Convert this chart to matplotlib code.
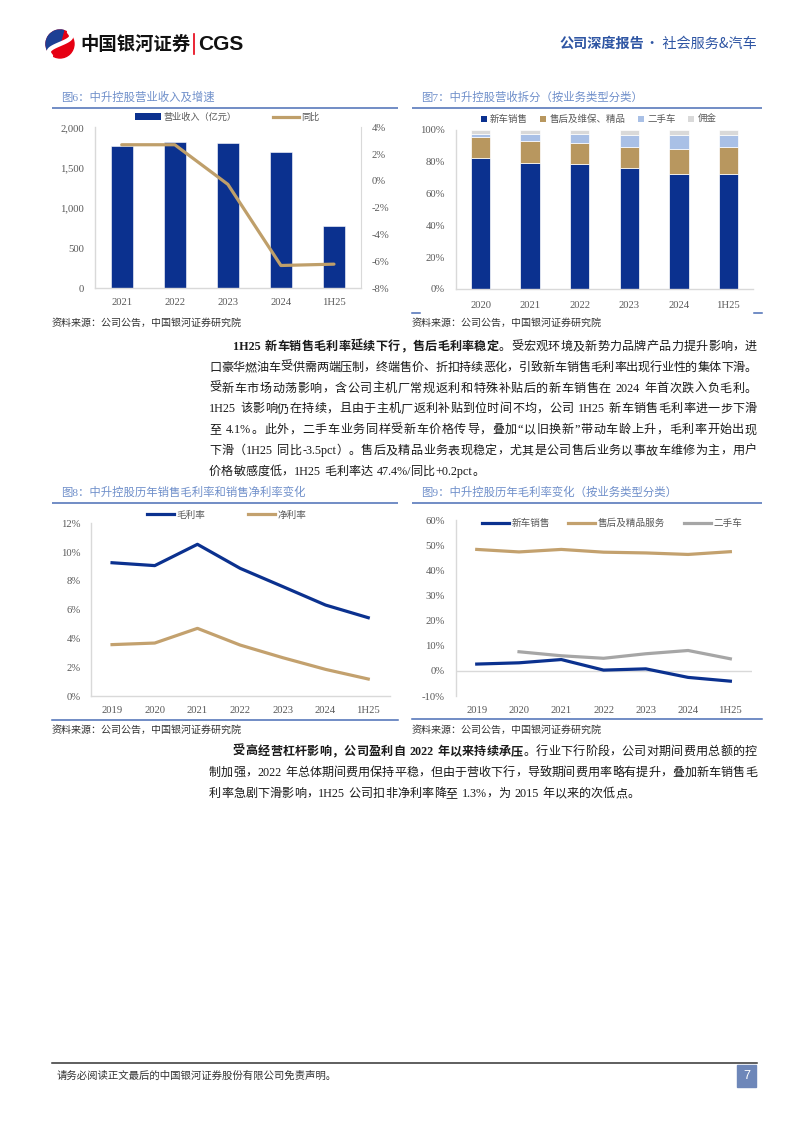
import numpy as np
import matplotlib
matplotlib.use("Agg")
import matplotlib.pyplot as plt
from matplotlib.patches import Patch, Rectangle, Circle, Wedge
from matplotlib.lines import Line2D
from matplotlib.ticker import FuncFormatter

plt.rcParams['font.family'] = ['Liberation Serif', 'Noto Sans CJK SC']
plt.rcParams['axes.unicode_minus'] = False

# ---- data ----
years6 = ['2021', '2022', '2023', '2024', '1H25']
revenue = [1768, 1814, 1801, 1693, 778]          # 营业收入（亿元）
revenue_yoy = [2.7, 2.7, -0.25, -6.3, -6.2]       # 同比 %

years7 = ['2020', '2021', '2022', '2023', '2024', '1H25']
new_car_share = [82.4, 79.3, 78.7, 75.8, 72.2, 72.4]
aftersales_share = [13.2, 13.8, 13.1, 13.5, 15.9, 16.9]
used_share = [1.9, 4.4, 5.5, 7.6, 8.8, 7.6]
commission_share = [2.5, 2.5, 2.7, 3.1, 3.1, 3.1]

years8 = ['2019', '2020', '2021', '2022', '2023', '2024', '1H25']
gross_margin = [9.26, 9.06, 10.54, 8.87, 7.6, 6.32, 5.44]
net_margin = [3.57, 3.68, 4.70, 3.54, 2.66, 1.85, 1.18]

new_car_gm = [2.7, 3.2, 4.5, 0.3, 0.8, -2.6, -4.1]
after_gm = [48.3, 47.3, 48.3, 47.2, 46.9, 46.3, 47.4]
used_gm = [np.nan, 7.6, 6.0, 5.0, 6.8, 8.1, 4.8]

ticks6_left = [0, 500, 1000, 1500, 2000]
ticks6_right = [-8, -6, -4, -2, 0, 2, 4]
ticks7 = [0, 20, 40, 60, 80, 100]
ticks8 = [0, 2, 4, 6, 8, 10, 12]
ticks9 = [-10, 0, 10, 20, 30, 40, 50, 60]

# ---- colours ----
NAVY = '#0b318f'
TAN = '#bf9f6a'
LBLUE = '#a9c0e6'
LGRAY = '#d9d9d9'
GRAY = '#a6a6a6'
TICK = '#595959'
AXLINE = '#d9d9d9'
TITLE = '#6f8fca'
RULE = '#4a6db5'
TXT = '#1a1a1a'
CJK = ['Noto Sans CJK SC']
MIX = ['Liberation Serif', 'Noto Sans CJK SC']

W, H = 794, 1123
fig = plt.figure(figsize=(W / 100, H / 100), dpi=100)

# overlay in pixel coordinates for page furniture
ov = fig.add_axes([0, 0, 1, 1])
ov.set_xlim(0, W)
ov.set_ylim(H, 0)
ov.axis('off')
renderer = fig.canvas.get_renderer()


def add_ax(x0, x1, ytop, ybot):
    return fig.add_axes([x0 / W, 1 - ybot / H, (x1 - x0) / W, (ybot - ytop) / H])


def style_ax(ax, pad_y=7.5, pad_x=7):
    for s in ['top', 'right']:
        ax.spines[s].set_visible(False)
    for s in ['left', 'bottom']:
        ax.spines[s].set_color(AXLINE)
        ax.spines[s].set_linewidth(1)
    ax.tick_params(axis='both', length=0, labelsize=7.7, labelcolor=TICK)
    ax.tick_params(axis='y', pad=pad_y)
    ax.tick_params(axis='x', pad=pad_x)


def chart_frame(x0, x1, title, ty, rule_y):
    ov.text(x0 + 9, ty, title, fontsize=8.2, color=TITLE, family=MIX, va='center', ha='left')
    ov.plot([x0, x1], [rule_y, rule_y], color=RULE, lw=1.1, solid_capstyle='butt')


def source(x, y):
    ov.text(x, y, '资料来源：公司公告，中国银河证券研究院', fontsize=7.2, color='#333333',
            family=CJK, style='italic', va='center', ha='left')


def fig_legend(ax, handles, labels, x, y, fs, **kw):
    ax.legend(handles, labels, loc='center left', bbox_to_anchor=(x / W, 1 - y / H),
              bbox_transform=fig.transFigure, frameon=False, borderpad=0, borderaxespad=0,
              ncol=len(handles), prop={'family': CJK, 'size': fs}, labelcolor=TICK, **kw)


pct = FuncFormatter(lambda v, p: '%d%%' % v)

# ---------- 图6 ----------
chart_frame(52, 398, '图6：中升控股营业收入及增速', 97.3, 107.7)
ax6 = add_ax(95.2, 360.5, 127.3, 288.3)
x6 = np.arange(len(years6))
ax6.bar(x6, revenue, width=0.415, color=NAVY, edgecolor='white', linewidth=0.4, zorder=2)
ax6.set_xlim(-0.5, len(years6) - 0.5)
ax6.set_ylim(0, 2000)
ax6.set_yticks(ticks6_left)
ax6.yaxis.set_major_formatter(FuncFormatter(lambda v, p: '{:,}'.format(int(v))))
ax6.set_xticks(x6)
ax6.set_xticklabels(years6)
style_ax(ax6, pad_y=8, pad_x=7)
ax6b = ax6.twinx()
ax6b.plot(x6, revenue_yoy, color=TAN, lw=2.3, solid_joinstyle='round', solid_capstyle='round')
ax6b.set_ylim(-8, 4)
ax6b.set_yticks(ticks6_right)
ax6b.yaxis.set_major_formatter(pct)
for s in ['top', 'left', 'bottom']:
    ax6b.spines[s].set_visible(False)
ax6b.spines['right'].set_color(AXLINE)
ax6b.tick_params(axis='y', length=0, labelsize=7.7, labelcolor=TICK, pad=8)
fig_legend(ax6b, [Patch(facecolor=NAVY), Line2D([], [], color=TAN, lw=2.3)],
           ['营业收入（亿元）', '同比'], 135, 117.3, 6.6,
           handlelength=2.8, handleheight=0.8, handletextpad=0.3, columnspacing=4.0)
source(52, 323)

# ---------- 图7 ----------
chart_frame(412, 762, '图7：中升控股营收拆分（按业务类型分类）', 97.3, 107.7)
ax7 = add_ax(455.8, 753.2, 129.7, 289)
x7 = np.arange(len(years7))
bottom = np.zeros(len(years7))
series7 = [(new_car_share, NAVY, '新车销售'), (aftersales_share, '#b8975f', '售后及维保、精品'),
           (used_share, LBLUE, '二手车'), (commission_share, LGRAY, '佣金')]
handles7 = []
for vals, col, lab in series7:
    ax7.bar(x7, vals, bottom=bottom, width=0.39, color=col, edgecolor='white', linewidth=0.5, zorder=2)
    bottom += np.array(vals)
    handles7.append(Patch(facecolor=col))
ax7.set_xlim(-0.5, len(years7) - 0.5)
ax7.set_ylim(0, 100)
ax7.set_yticks(ticks7)
ax7.yaxis.set_major_formatter(pct)
ax7.set_xticks(x7)
ax7.set_xticklabels(years7)
style_ax(ax7, pad_y=7.8, pad_x=9)
fig_legend(ax7, handles7, [s[2] for s in series7], 480.5, 119.3, 6.8,
           handlelength=0.65, handleheight=0.65, handletextpad=0.35, columnspacing=1.3)
ov.plot([412, 420], [312.7, 312.7], color=RULE, lw=1.1)
ov.plot([754, 762], [312.7, 312.7], color=RULE, lw=1.1)
source(412, 323)

# ---------- 图8 ----------
chart_frame(52, 398, '图8：中升控股历年销售毛利率和销售净利率变化', 492.3, 502.7)
ax8 = add_ax(90.7, 389.6, 523.3, 696)
x8 = np.arange(len(years8))
ax8.plot(x8, gross_margin, color=NAVY, lw=2.3, solid_joinstyle='round')
ax8.plot(x8, net_margin, color='#c3a16e', lw=2.3, solid_joinstyle='round')
ax8.set_xlim(-0.5, len(years8) - 0.5)
ax8.set_ylim(0, 12)
ax8.set_yticks(ticks8)
ax8.yaxis.set_major_formatter(pct)
ax8.set_xticks(x8)
ax8.set_xticklabels(years8)
style_ax(ax8, pad_y=7, pad_x=7)
fig_legend(ax8, [Line2D([], [], color=NAVY, lw=2.3), Line2D([], [], color='#c3a16e', lw=2.3)],
           ['毛利率', '净利率'], 147, 515, 6.9,
           handlelength=2.8, handletextpad=0.25, columnspacing=4.5)
ov.plot([52, 398], [720, 720], color=RULE, lw=1.1)
source(52, 730)

# ---------- 图9 ----------
chart_frame(412, 762, '图9：中升控股历年毛利率变化（按业务类型分类）', 492.3, 502.7)
ax9 = add_ax(455.6, 751.5, 520, 696)
ax9.plot(x8, new_car_gm, color=NAVY, lw=2.3, solid_joinstyle='round')
ax9.plot(x8, after_gm, color='#c3a16e', lw=2.3, solid_joinstyle='round')
ax9.plot(x8, used_gm, color=GRAY, lw=2.3, solid_joinstyle='round')
ax9.axhline(0, color=AXLINE, lw=1, zorder=0)
ax9.set_xlim(-0.5, len(years8) - 0.5)
ax9.set_ylim(-10, 60)
ax9.set_yticks(ticks9)
ax9.yaxis.set_major_formatter(pct)
ax9.set_xticks(x8)
ax9.set_xticklabels(years8)
style_ax(ax9, pad_y=7.6, pad_x=7)
ax9.spines['bottom'].set_visible(False)
fig_legend(ax9, [Line2D([], [], color=NAVY, lw=2.3), Line2D([], [], color='#c3a16e', lw=2.3),
                 Line2D([], [], color=GRAY, lw=2.3)],
           ['新车销售', '售后及精品服务', '二手车'], 482, 523.3, 6.9,
           handlelength=2.8, handletextpad=0.3, columnspacing=1.9)
ov.plot([412, 762], [719, 719], color=RULE, lw=1.1)
source(412, 730)

# ---------- body text ----------
BODY_FS = 8.7


def body_line(x0, y, parts, x1=None):
    units = []
    for s, bold in parts:
        run = ''
        for ch in s:
            if ch == ' ':
                if run:
                    units.append((run, bold))
                    run = ''
                units.append((None, bold))
            elif ord(ch) < 0x2000:
                run += ch
            else:
                if run:
                    units.append((run, bold))
                    run = ''
                units.append((ch, bold))
        if run:
            units.append((run, bold))
    objs, widths = [], []
    space_w = BODY_FS * 100 / 72 * 0.3
    for s, bold in units:
        if s is None:
            objs.append(None)
            widths.append(space_w)
            continue
        t = ov.text(x0, y, s, fontsize=BODY_FS, family=MIX, color=TXT,
                    fontweight='bold' if bold else 'normal', va='center', ha='left')
        objs.append(t)
        widths.append(t.get_window_extent(renderer).width)
    gap = 0
    if x1 is not None and len(objs) > 1:
        gap = (x1 - x0 - sum(widths)) / (len(objs) - 1)
    x = x0
    for t, w in zip(objs, widths):
        if t is not None:
            t.set_x(x)
        x += w + gap


para1 = [
    [('1H25 新车销售毛利率延续下行，售后毛利率稳定', True), ('。受宏观环境及新势力品牌产品力提升影响，进', False)],
    [('口豪华燃油车受供需两端压制，终端售价、折扣持续恶化，引致新车销售毛利率出现行业性的集体下滑。', False)],
    [('受新车市场动荡影响，含公司主机厂常规返利和特殊补贴后的新车销售在 2024 年首次跌入负毛利。', False)],
    [('1H25 该影响仍在持续，且由于主机厂返利补贴到位时间不均，公司 1H25 新车销售毛利率进一步下滑', False)],
    [('至 4.1%。此外，二手车业务同样受新车价格传导，叠加“以旧换新”带动车龄上升，毛利率开始出现', False)],
    [('下滑（1H25 同比-3.5pct）。售后及精品业务表现稳定，尤其是公司售后业务以事故车维修为主，用户', False)],
    [('价格敏感度低，1H25 毛利率达 47.4%/同比+0.2pct。', False)],
]
for i, parts in enumerate(para1):
    x0 = 233 if i == 0 else 209
    body_line(x0, 347 + 20.8 * i, parts, None if i == len(para1) - 1 else 757)

para2 = [
    [('受高经营杠杆影响，公司盈利自 2022 年以来持续承压', True), ('。行业下行阶段，公司对期间费用总额的控', False)],
    [('制加强，2022 年总体期间费用保持平稳，但由于营收下行，导致期间费用率略有提升，叠加新车销售毛', False)],
    [('利率急剧下滑影响，1H25 公司扣非净利率降至 1.3%，为 2015 年以来的次低点。', False)],
]
for i, parts in enumerate(para2):
    x0 = 233 if i == 0 else 209
    body_line(x0, 752 + 21 * i, parts, None if i == len(para2) - 1 else 757)

# ---------- header ----------
ov.add_patch(Circle((60, 44), 14, color='#e60012', zorder=3))
ov.add_patch(Wedge((60, 44), 14, 150, 285, color='#1d3f94', zorder=4))
tt = np.linspace(0, 1, 40)
sx = 69 - 18 * tt + 6 * np.sin(tt * np.pi * 2)
sy = 32 + 24 * tt
ov.plot(sx, sy, color='white', lw=3.2, zorder=5, solid_capstyle='round')
ov.text(80, 44, '中国银河证券', fontsize=13.2, fontweight='bold', family=CJK, color='#111111',
        va='center', ha='left')
ov.plot([194, 194], [34, 54], color='#e60012', lw=1.2)
ov.text(198, 44.5, 'CGS', fontsize=15, fontweight='bold', family=['Liberation Sans'], color='#111111',
        va='center', ha='left')
hr = ov.text(757, 44, '· 社会服务&汽车', fontsize=10.2, family=CJK, color='#2e55a3', va='center', ha='right')
hr_w = hr.get_window_extent(renderer).width
ov.text(757 - hr_w - 1, 44, '公司深度报告', fontsize=10.2, family=CJK, fontweight='bold', color='#2e55a3',
        va='center', ha='right')

# ---------- footer ----------
ov.plot([52, 757], [1063, 1063], color='#333333', lw=1.1)
ov.text(57, 1076, '请务必阅读正文最后的中国银河证券股份有限公司免责声明。', fontsize=7.5, family=CJK,
        color='#333333', va='center', ha='left')
ov.add_patch(Rectangle((737, 1065), 19, 22, color='#6e87b9'))
ov.text(746.5, 1076, '7', fontsize=9, family=['Liberation Sans'], color='white', va='center', ha='center')

fig.savefig('out.png', dpi=100)
